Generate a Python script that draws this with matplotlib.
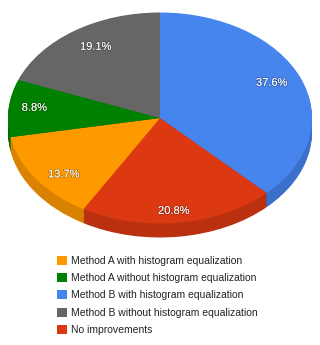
import matplotlib.pyplot as plt
import matplotlib.patheffects as pe
from matplotlib.patches import Patch

# slices in drawing order, clockwise from the top
slice_names = ['Method B with histogram equalization', 'No improvements',
               'Method A with histogram equalization',
               'Method A without histogram equalization',
               'Method B without histogram equalization']
slice_values = [37.6, 20.8, 13.7, 8.8, 19.1]
slice_colors = ['#4684EE', '#DC3912', '#FF9900', '#008000', '#666666']
side_colors = ['#3B70CA', '#BB300F', '#D98200', '#006D00', '#575757']

# legend has its own order
legend_names = ['Method A with histogram equalization',
                'Method A without histogram equalization',
                'Method B with histogram equalization',
                'Method B without histogram equalization',
                'No improvements']

plt.rcParams['font.family'] = ['Liberation Sans', 'DejaVu Sans']

W, H = 320, 345
cx, cy, rx, ry, depth = 160, 118, 152, 105.5, 14

# nudges of the percent labels in pixels (right, down)
nudge_x = [-5, -2, 7, 0, 7]
nudge_y = [-2, 6, 6, -2, 1]

fig = plt.figure(figsize=(W / 100, H / 100), dpi=100)
ax = fig.add_axes([0, 0, 1, 1])

# thickness of the disc: stacked copies of the pie, shifted downwards
for i in range(int(depth), 0, -1):
    ax.pie(slice_values, colors=side_colors, startangle=90, counterclock=False,
           center=(0, -i / ry))

wedges, texts, autotexts = ax.pie(slice_values, colors=slice_colors, startangle=90,
                                  counterclock=False, autopct='%.1f%%', pctdistance=0.83,
                                  textprops={'color': 'white', 'fontsize': 8})
for t, dx, dy in zip(autotexts, nudge_x, nudge_y):
    x, y = t.get_position()
    t.set_position((x + dx / rx, y - dy / ry))
    t.set_path_effects([pe.withStroke(linewidth=1.2, foreground='#00000040')])

# squash the circle to the ellipse of the reference
ax.set_aspect('auto')
ax.set_xlim(-cx / rx, (W - cx) / rx)
ax.set_ylim(-(H - cy) / ry, cy / ry)
ax.axis('off')

color_by_name = dict(zip(slice_names, slice_colors))
handles = [Patch(facecolor=color_by_name[n], label=n) for n in legend_names]
ax.legend(handles=handles, loc='upper left', bbox_to_anchor=(57 / W, 1 - 255.5 / H),
          frameon=False, fontsize=7.5, handlelength=0.96, handleheight=0.96,
          handletextpad=0.35, labelspacing=0.7, borderpad=0, borderaxespad=0,
          labelcolor='#222222')

fig.savefig('out.png', dpi=100)
